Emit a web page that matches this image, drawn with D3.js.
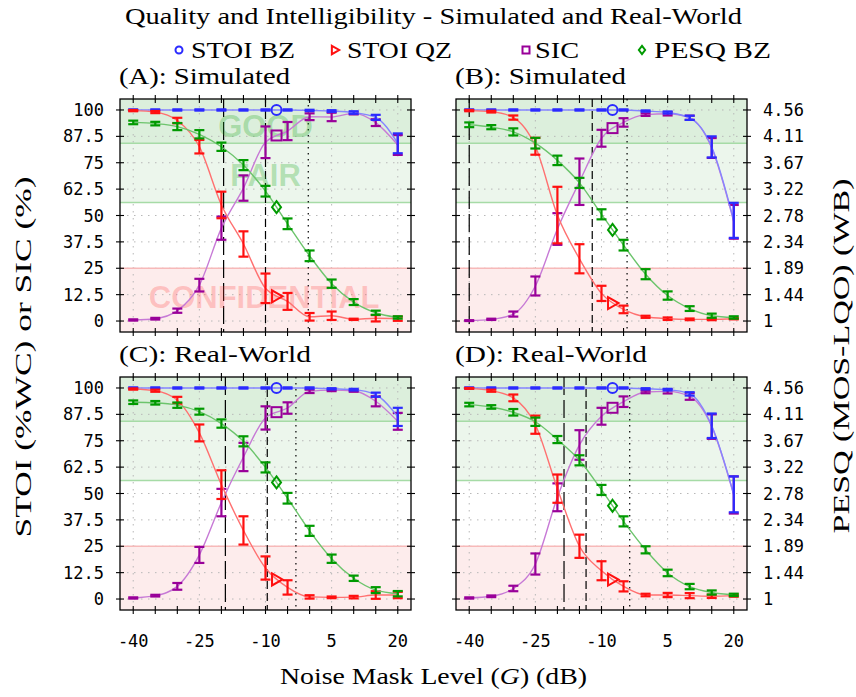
<!DOCTYPE html>
<html>
<head>
<meta charset="utf-8">
<script src="https://cdn.jsdelivr.net/npm/d3@7"></script>
<style>
  body { margin: 0; background: #fff; }
  svg { display: block; }
  .tick-label { font-family: "DejaVu Sans Mono", monospace; font-size: 17px; fill: #000; }
  .serif { font-family: "Liberation Serif", "DejaVu Serif", serif; font-size: 24px; fill: #000; }
  .zone { font-family: "Liberation Sans", Arial, sans-serif; font-weight: bold; font-size: 31px; text-anchor: middle; }
</style>
</head>
<body>
<div id="chart"></div>
<script>
/**
 * CONSTANTS AND GLOBALS
 * */
const width = 856, height = 697;
const plotW = 291, plotH = 233;

// noise mask levels (dB) - shared x values
const levels = [-40, -35, -30, -25, -20, -15, -10, -5, 0, 5, 10, 15, 20];
const yTicks = [0, 12.5, 25, 37.5, 50, 62.5, 75, 87.5, 100];
const pesqTickLabels = ["1", "1.44", "1.89", "2.34", "2.78", "3.22", "3.67", "4.11", "4.56"];
const xLabelTicks = [-40, -25, -10, 5, 20];

// (A) simulated
const simA_stoiBZ = [100, 100, 100, 100, 100, 100, 100, 100, 99.8, 99.5, 98.8, 96.5, 84.2];
const simA_stoiBZErr = [0.3, 0.3, 0.3, 0.3, 0.3, 0.3, 0.3, 0.3, 0.3, 0.4, 0.6, 1.2, 4.7];
const simA_stoiQZ = [99.7, 99.0, 95.0, 82.6, 55.0, 36.5, 15.5, 9.3, 2.0, 2.5, 0.8, 1.3, 1.1];
const simA_stoiQZErr = [0.3, 0.5, 1.3, 3.2, 6.3, 6.0, 7.0, 4.0, 1.8, 2.0, 0.3, 1.5, 1.0];
const simA_sic = [0.5, 1.1, 4.9, 17.0, 44.0, 63.0, 84.7, 90.0, 96.8, 96.7, 98.4, 94.0, 83.4];
const simA_sicErr = [0.3, 0.4, 1.0, 3.0, 5.5, 6.0, 7.5, 4.3, 1.6, 2.0, 0.5, 1.6, 4.7];
const simA_pesq = [4.35, 4.33, 4.28, 4.15, 3.94, 3.63, 3.19, 2.64, 2.10, 1.63, 1.32, 1.14, 1.06];
const simA_pesqErr = [0.03, 0.03, 0.06, 0.07, 0.07, 0.085, 0.09, 0.09, 0.09, 0.07, 0.05, 0.035, 0.02];

// (B) simulated
const simB_stoiBZ = [100, 100, 100, 100, 100, 100, 100, 100, 99.5, 98.8, 96.3, 82.5, 47.7];
const simB_stoiBZErr = [0.3, 0.3, 0.3, 0.3, 0.3, 0.3, 0.3, 0.3, 0.3, 0.5, 1.0, 5.0, 8.3];
const simB_stoiQZ = [99.7, 99.2, 96.4, 82.8, 50.2, 29.5, 13.1, 5.5, 2.0, 1.1, 0.8, 0.8, 1.1];
const simB_stoiQZErr = [0.3, 0.4, 1.0, 4.0, 13.4, 6.9, 3.6, 1.8, 0.5, 0.6, 0.4, 0.4, 0.3];
const simB_sic = [0.2, 0.8, 3.3, 16.6, 43.6, 66.0, 86.6, 94.1, 97.8, 98.2, 96.3, 82.0, 47.0];
const simB_sicErr = [0.2, 0.3, 1.2, 4.5, 7.5, 11.0, 4.0, 2.0, 0.6, 0.8, 1.0, 4.7, 8.0];
const simB_pesq = [4.31, 4.27, 4.19, 4.00, 3.71, 3.33, 2.80, 2.28, 1.79, 1.43, 1.21, 1.09, 1.06];
const simB_pesqErr = [0.04, 0.035, 0.06, 0.09, 0.08, 0.085, 0.085, 0.09, 0.085, 0.07, 0.04, 0.035, 0.02];

// (C) real-world
const realC_stoiBZ = [100, 100, 100, 100, 100, 100, 100, 100, 100, 99.6, 99.2, 96.8, 86.3];
const realC_stoiBZErr = [0.3, 0.3, 0.3, 0.3, 0.3, 0.3, 0.3, 0.3, 0.3, 0.3, 0.4, 1.0, 4.3];
const realC_stoiQZ = [99.5, 98.7, 94.2, 78.7, 54.2, 32.5, 14.7, 5.5, 1.0, 0.8, 0.9, 1.9, 1.9];
const realC_stoiQZErr = [0.3, 0.5, 1.6, 4.0, 6.8, 6.7, 5.5, 3.4, 0.8, 0.4, 0.6, 1.8, 1.5];
const realC_sic = [0.5, 1.6, 6.0, 20.9, 45.7, 67.3, 85.8, 90.5, 98.4, 99.0, 98.7, 93.7, 84.2];
const realC_sicErr = [0.3, 0.4, 1.6, 3.8, 6.5, 6.7, 5.5, 2.7, 0.8, 0.5, 0.5, 2.4, 4.0];
const realC_pesq = [4.32, 4.31, 4.27, 4.16, 3.96, 3.66, 3.22, 2.70, 2.15, 1.68, 1.35, 1.15, 1.09];
const realC_pesqErr = [0.03, 0.03, 0.045, 0.05, 0.07, 0.085, 0.085, 0.09, 0.085, 0.07, 0.045, 0.05, 0.045];

// (D) real-world
const realD_stoiBZ = [100, 100, 100, 100, 100, 100, 100, 100, 99.6, 99.2, 97.2, 82.1, 49.6];
const realD_stoiBZErr = [0.3, 0.3, 0.3, 0.3, 0.3, 0.3, 0.3, 0.3, 0.3, 0.4, 0.8, 5.8, 8.5];
const realD_stoiQZ = [99.8, 98.7, 95.3, 82.6, 52.3, 25.0, 13.4, 6.0, 1.9, 1.9, 1.6, 1.3, 1.6];
const realD_stoiQZErr = [0.2, 0.5, 1.6, 4.3, 6.7, 5.5, 4.5, 2.4, 0.6, 1.0, 1.2, 0.8, 0.5];
const realD_sic = [0.5, 1.3, 5.0, 16.6, 48.2, 73.0, 86.6, 93.5, 98.1, 98.4, 96.0, 81.7, 49.3];
const realD_sicErr = [0.3, 0.4, 1.3, 5.0, 6.6, 7.0, 4.0, 2.5, 0.6, 1.0, 1.6, 5.8, 8.8];
const realD_pesq = [4.28, 4.24, 4.15, 3.99, 3.69, 3.34, 2.84, 2.31, 1.83, 1.44, 1.21, 1.11, 1.07];
const realD_pesqErr = [0.03, 0.03, 0.055, 0.07, 0.06, 0.085, 0.085, 0.085, 0.06, 0.055, 0.045, 0.035, 0.02];

// vertical reference lines per panel (A, B, C, D), dB
const longDashAt = [-19.5, -40, -19.1, -18.5];
const midDashAt = [-10, -12.1, -9.6, -13.5];
const dottedAt = [-0.3, -4.2, -3.1, -3.6];

// quality zones
const goodPesq = 4.0, fairPesq = 3.0, confidentialStoi = 25;
const markerAt = -7.5;

/**
 * SCALES
 * */
const xScale = d3.scaleLinear().domain([-43, 23]).range([0, plotW]);
const yScale = d3.scaleLinear().domain([-5.2, 105.2]).range([plotH, 0]);
const pesqToPct = d3.scaleLinear().domain([1, 4.56]).range([0, 100]);

const style = {
  stoiBZ: { bar: "#2b2bff", line: "#8585ff", marker: "circle" },
  stoiQZ: { bar: "#ff1010", line: "#ff7070", marker: "triangle" },
  sic:    { bar: "#990099", line: "#c77ad6", marker: "square" },
  pesq:   { bar: "#009a00", line: "#6cc46c", marker: "diamond" }
};

const panels = [
  { title: "(A): Simulated", left: 120, top: 99, idx: 0, leftLabels: true, rightLabels: false, xLabels: false, zones: true,
    series: { stoiBZ: [simA_stoiBZ, simA_stoiBZErr], stoiQZ: [simA_stoiQZ, simA_stoiQZErr], sic: [simA_sic, simA_sicErr], pesq: [simA_pesq, simA_pesqErr] } },
  { title: "(B): Simulated", left: 456, top: 99, idx: 1, leftLabels: false, rightLabels: true, xLabels: false, zones: false,
    series: { stoiBZ: [simB_stoiBZ, simB_stoiBZErr], stoiQZ: [simB_stoiQZ, simB_stoiQZErr], sic: [simB_sic, simB_sicErr], pesq: [simB_pesq, simB_pesqErr] } },
  { title: "(C): Real-World", left: 120, top: 377, idx: 2, leftLabels: true, rightLabels: false, xLabels: true, zones: false,
    series: { stoiBZ: [realC_stoiBZ, realC_stoiBZErr], stoiQZ: [realC_stoiQZ, realC_stoiQZErr], sic: [realC_sic, realC_sicErr], pesq: [realC_pesq, realC_pesqErr] } },
  { title: "(D): Real-World", left: 456, top: 377, idx: 3, leftLabels: false, rightLabels: true, xLabels: true, zones: false,
    series: { stoiBZ: [realD_stoiBZ, realD_stoiBZErr], stoiQZ: [realD_stoiQZ, realD_stoiQZErr], sic: [realD_sic, realD_sicErr], pesq: [realD_pesq, realD_pesqErr] } }
];

const svg = d3.select("#chart").append("svg").attr("width", width).attr("height", height);

// draws one of the four marker shapes centred on 0,0
function marker(sel, kind, color, s) {
  let m;
  if (kind === "circle") m = sel.append("circle").attr("r", 5 * s);
  else if (kind === "square") m = sel.append("rect").attr("x", -5 * s).attr("y", -5 * s).attr("width", 10 * s).attr("height", 10 * s);
  else if (kind === "triangle") m = sel.append("path").attr("d", `M${-4.5 * s},${-6 * s}L${6 * s},0L${-4.5 * s},${6 * s}Z`);
  else m = sel.append("path").attr("d", `M0,${-6 * s}L${4.5 * s},0L0,${6 * s}L${-4.5 * s},0Z`);
  m.attr("fill", "none").attr("stroke", color).attr("stroke-width", 2);
}

// find the point of a path at a given x (curves are monotone in x)
function pointAtX(node, xTarget) {
  let lo = 0, hi = node.getTotalLength();
  for (let k = 0; k < 40; k++) {
    const mid = (lo + hi) / 2;
    if (node.getPointAtLength(mid).x < xTarget) lo = mid; else hi = mid;
  }
  return node.getPointAtLength(lo);
}

function drawPanel(p) {
  const g = svg.append("g").attr("transform", `translate(${p.left},${p.top})`);

  // zone bands
  g.append("rect").attr("x", 0).attr("y", 0).attr("width", plotW)
    .attr("height", yScale(pesqToPct(fairPesq))).attr("fill", "#ecf6ec");
  g.append("rect").attr("x", 0).attr("y", 0).attr("width", plotW)
    .attr("height", yScale(pesqToPct(goodPesq))).attr("fill", "#dcefdc");
  g.append("rect").attr("x", 0).attr("y", yScale(confidentialStoi)).attr("width", plotW)
    .attr("height", plotH - yScale(confidentialStoi)).attr("fill", "#fdecec");

  // grid
  g.selectAll(".hgrid").data(yTicks).join("line").attr("class", "hgrid")
    .attr("x1", 0).attr("x2", plotW).attr("y1", d => yScale(d)).attr("y2", d => yScale(d))
    .attr("stroke", "#b8b8b8").attr("stroke-dasharray", "1.5,5.5");
  g.selectAll(".vgrid").data(xLabelTicks).join("line").attr("class", "vgrid")
    .attr("x1", d => xScale(d)).attr("x2", d => xScale(d)).attr("y1", 0).attr("y2", plotH)
    .attr("stroke", "#b8b8b8").attr("stroke-dasharray", "1.5,5.5");

  // zone borders
  g.append("line").attr("x1", 0).attr("x2", plotW)
    .attr("y1", yScale(pesqToPct(goodPesq))).attr("y2", yScale(pesqToPct(goodPesq)))
    .attr("stroke", "#a6dba6").attr("stroke-width", 1.5);
  g.append("line").attr("x1", 0).attr("x2", plotW)
    .attr("y1", yScale(pesqToPct(fairPesq))).attr("y2", yScale(pesqToPct(fairPesq)))
    .attr("stroke", "#a6dba6").attr("stroke-width", 1.5);
  g.append("line").attr("x1", 0).attr("x2", plotW)
    .attr("y1", yScale(confidentialStoi)).attr("y2", yScale(confidentialStoi))
    .attr("stroke", "#f7b9b9").attr("stroke-width", 1.5);

  // reference lines
  [[longDashAt, "18,5"], [midDashAt, "8,4"], [dottedAt, "1.5,4.5"]].forEach(([arr, dash]) => {
    g.append("line").attr("x1", xScale(arr[p.idx])).attr("x2", xScale(arr[p.idx]))
      .attr("y1", 0).attr("y2", plotH).attr("stroke", "#000").attr("stroke-width", 1.2)
      .attr("stroke-dasharray", dash);
  });

  if (p.zones) {
    g.append("text").attr("class", "zone").attr("x", xScale(-10)).attr("y", yScale(87.2))
      .attr("fill", "rgba(40,170,40,0.3)").text("GOOD");
    g.append("text").attr("class", "zone").attr("x", xScale(-10)).attr("y", yScale(64))
      .attr("fill", "rgba(40,170,40,0.3)").text("FAIR");
    g.append("text").attr("class", "zone").attr("x", xScale(-10.3)).attr("y", yScale(6.2))
      .attr("fill", "rgba(255,60,60,0.25)").text("CONFIDENTIAL");
  }

  // series (curve + error bars)
  const order = ["sic", "stoiBZ", "stoiQZ", "pesq"];
  const markerPts = {};
  order.forEach(key => {
    const [vals, errs] = p.series[key];
    const conv = key === "pesq" ? pesqToPct : (v => v);
    const pts = levels.map((lv, i) => ({ x: lv, y: conv(vals[i]),
      lo: conv(vals[i] - errs[i]), hi: conv(vals[i] + errs[i]) }));
    const line = d3.line().x(d => xScale(d.x)).y(d => yScale(d.y)).curve(d3.curveMonotoneX);
    const path = g.append("path").datum(pts).attr("d", line)
      .attr("fill", "none").attr("stroke", style[key].line).attr("stroke-width", 1.4);
    markerPts[key] = pointAtX(path.node(), xScale(markerAt));

    const bars = g.append("g").attr("stroke", style[key].bar).attr("stroke-width", 2.2);
    bars.selectAll(".eb").data(pts).join("line")
      .attr("x1", d => xScale(d.x)).attr("x2", d => xScale(d.x))
      .attr("y1", d => yScale(d.lo)).attr("y2", d => yScale(d.hi));
    bars.selectAll(".cap-lo").data(pts).join("line")
      .attr("x1", d => xScale(d.x) - 5).attr("x2", d => xScale(d.x) + 5)
      .attr("y1", d => yScale(d.lo)).attr("y2", d => yScale(d.lo));
    bars.selectAll(".cap-hi").data(pts).join("line")
      .attr("x1", d => xScale(d.x) - 5).attr("x2", d => xScale(d.x) + 5)
      .attr("y1", d => yScale(d.hi)).attr("y2", d => yScale(d.hi));
  });

  // markers on curves
  order.forEach(key => {
    const pt = markerPts[key];
    const m = g.append("g").attr("transform", `translate(${pt.x},${pt.y})`);
    marker(m, style[key].marker, style[key].bar, 1);
  });

  // frame
  g.append("rect").attr("x", 0).attr("y", 0).attr("width", plotW).attr("height", plotH)
    .attr("fill", "none").attr("stroke", "#000").attr("stroke-width", 1.3);

  // ticks crossing the frame
  const tk = g.append("g").attr("stroke", "#000").attr("stroke-width", 1.1);
  yTicks.forEach(v => {
    tk.append("line").attr("x1", -4).attr("x2", 4).attr("y1", yScale(v)).attr("y2", yScale(v));
    tk.append("line").attr("x1", plotW - 4).attr("x2", plotW + 4).attr("y1", yScale(v)).attr("y2", yScale(v));
  });
  levels.forEach(v => {
    tk.append("line").attr("x1", xScale(v)).attr("x2", xScale(v)).attr("y1", -4).attr("y2", 4);
    tk.append("line").attr("x1", xScale(v)).attr("x2", xScale(v)).attr("y1", plotH - 4).attr("y2", plotH + 4);
  });

  if (p.leftLabels) {
    g.selectAll(".ylab").data(yTicks).join("text").attr("class", "tick-label")
      .attr("x", -16).attr("y", d => yScale(d) + 6).attr("text-anchor", "end")
      .text(d => d);
  }
  if (p.rightLabels) {
    g.selectAll(".rlab").data(pesqTickLabels).join("text").attr("class", "tick-label")
      .attr("x", plotW + 16).attr("y", (d, i) => yScale(yTicks[i]) + 6)
      .text(d => d);
  }
  if (p.xLabels) {
    g.selectAll(".xlab").data(xLabelTicks).join("text").attr("class", "tick-label")
      .attr("x", d => xScale(d)).attr("y", plotH + 37).attr("text-anchor", "middle")
      .text(d => d);
  }

  // panel title
  svg.append("text").attr("class", "serif").attr("x", p.left - 1).attr("y", p.top - 15)
    .attr("textLength", p.title.includes("Real") ? 192 : 171).attr("lengthAdjust", "spacingAndGlyphs")
    .text(p.title);
}

panels.forEach(drawPanel);

// title
svg.append("text").attr("class", "serif").attr("x", 433.5).attr("y", 24).attr("text-anchor", "middle")
  .attr("textLength", 617).attr("lengthAdjust", "spacingAndGlyphs")
  .text("Quality and Intelligibility - Simulated and Real-World");

// legend
const legendItems = [
  { key: "stoiBZ", label: "STOI BZ", mx: 179, tx: 191, w: 104 },
  { key: "stoiQZ", label: "STOI QZ", mx: 335, tx: 347, w: 105 },
  { key: "sic", label: "SIC", mx: 526, tx: 535, w: 44 },
  { key: "pesq", label: "PESQ BZ", mx: 642, tx: 654, w: 117 }
];
legendItems.forEach(it => {
  const m = svg.append("g").attr("transform", `translate(${it.mx},50)`);
  marker(m, style[it.key].marker, style[it.key].bar, 0.7);
  svg.append("text").attr("class", "serif").attr("x", it.tx).attr("y", 58)
    .attr("textLength", it.w).attr("lengthAdjust", "spacingAndGlyphs").text(it.label);
});

// axis titles
const xt = svg.append("text").attr("class", "serif").attr("x", 433.5).attr("y", 684)
  .attr("text-anchor", "middle").attr("textLength", 307).attr("lengthAdjust", "spacingAndGlyphs");
xt.append("tspan").text("Noise Mask Level (");
xt.append("tspan").attr("font-style", "italic").text("G");
xt.append("tspan").text(") (dB)");

svg.append("text").attr("class", "serif").attr("transform", "translate(31,357) rotate(-90)")
  .attr("text-anchor", "middle").attr("textLength", 361).attr("lengthAdjust", "spacingAndGlyphs")
  .text("STOI (%WC) or SIC (%)");
svg.append("text").attr("class", "serif").attr("transform", "translate(849,356) rotate(-90)")
  .attr("text-anchor", "middle").attr("textLength", 355).attr("lengthAdjust", "spacingAndGlyphs")
  .text("PESQ (MOS-LQO) (WB)");
</script>
</body>
</html>
